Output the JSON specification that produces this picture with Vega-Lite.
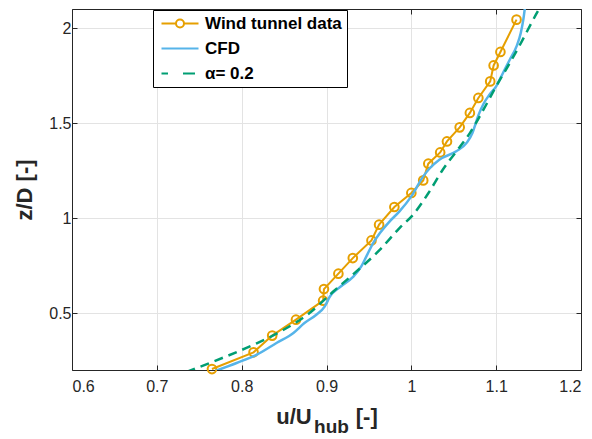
{
  "$schema": "https://vega.github.io/schema/vega-lite/v6.json",
  "width": 509,
  "height": 361,
  "autosize": {"type": "none"},
  "padding": {"left": 72, "top": 9, "right": 11, "bottom": 69},
  "background": "white",
  "title": {
    "text": "hub",
    "orient": "bottom",
    "anchor": "middle",
    "dx": 5,
    "offset": -9,
    "font": "Liberation Sans",
    "fontSize": 19,
    "fontWeight": "bold",
    "color": "#262626"
  },
  "datasets": {
    "wind": [
      {"series": "Wind tunnel data", "u": 0.765, "z": 0.205},
      {"series": "Wind tunnel data", "u": 0.814, "z": 0.293},
      {"series": "Wind tunnel data", "u": 0.836, "z": 0.381},
      {"series": "Wind tunnel data", "u": 0.864, "z": 0.465},
      {"series": "Wind tunnel data", "u": 0.896, "z": 0.565},
      {"series": "Wind tunnel data", "u": 0.897, "z": 0.626},
      {"series": "Wind tunnel data", "u": 0.914, "z": 0.707},
      {"series": "Wind tunnel data", "u": 0.931, "z": 0.789},
      {"series": "Wind tunnel data", "u": 0.953, "z": 0.882},
      {"series": "Wind tunnel data", "u": 0.962, "z": 0.965},
      {"series": "Wind tunnel data", "u": 0.980, "z": 1.058},
      {"series": "Wind tunnel data", "u": 1.000, "z": 1.132},
      {"series": "Wind tunnel data", "u": 1.014, "z": 1.198},
      {"series": "Wind tunnel data", "u": 1.020, "z": 1.286},
      {"series": "Wind tunnel data", "u": 1.034, "z": 1.345},
      {"series": "Wind tunnel data", "u": 1.042, "z": 1.403},
      {"series": "Wind tunnel data", "u": 1.057, "z": 1.477},
      {"series": "Wind tunnel data", "u": 1.069, "z": 1.553},
      {"series": "Wind tunnel data", "u": 1.079, "z": 1.632},
      {"series": "Wind tunnel data", "u": 1.093, "z": 1.719},
      {"series": "Wind tunnel data", "u": 1.097, "z": 1.803},
      {"series": "Wind tunnel data", "u": 1.105, "z": 1.874},
      {"series": "Wind tunnel data", "u": 1.124, "z": 2.044}
    ],
    "cfd": [
      {"series": "CFD", "u": 0.769, "z": 0.195},
      {"series": "CFD", "u": 0.794, "z": 0.237},
      {"series": "CFD", "u": 0.818, "z": 0.281},
      {"series": "CFD", "u": 0.841, "z": 0.342},
      {"series": "CFD", "u": 0.861, "z": 0.395},
      {"series": "CFD", "u": 0.874, "z": 0.447},
      {"series": "CFD", "u": 0.888, "z": 0.491},
      {"series": "CFD", "u": 0.898, "z": 0.535},
      {"series": "CFD", "u": 0.904, "z": 0.587},
      {"series": "CFD", "u": 0.916, "z": 0.637},
      {"series": "CFD", "u": 0.931, "z": 0.689},
      {"series": "CFD", "u": 0.941, "z": 0.745},
      {"series": "CFD", "u": 0.947, "z": 0.798},
      {"series": "CFD", "u": 0.955, "z": 0.868},
      {"series": "CFD", "u": 0.963, "z": 0.921},
      {"series": "CFD", "u": 0.974, "z": 0.980},
      {"series": "CFD", "u": 0.986, "z": 1.035},
      {"series": "CFD", "u": 1.000, "z": 1.114},
      {"series": "CFD", "u": 1.014, "z": 1.219},
      {"series": "CFD", "u": 1.022, "z": 1.263},
      {"series": "CFD", "u": 1.033, "z": 1.307},
      {"series": "CFD", "u": 1.053, "z": 1.351},
      {"series": "CFD", "u": 1.065, "z": 1.395},
      {"series": "CFD", "u": 1.072, "z": 1.447},
      {"series": "CFD", "u": 1.076, "z": 1.500},
      {"series": "CFD", "u": 1.079, "z": 1.540},
      {"series": "CFD", "u": 1.085, "z": 1.600},
      {"series": "CFD", "u": 1.092, "z": 1.649},
      {"series": "CFD", "u": 1.100, "z": 1.693},
      {"series": "CFD", "u": 1.108, "z": 1.763},
      {"series": "CFD", "u": 1.116, "z": 1.833},
      {"series": "CFD", "u": 1.124, "z": 1.903},
      {"series": "CFD", "u": 1.129, "z": 1.974},
      {"series": "CFD", "u": 1.132, "z": 2.044},
      {"series": "CFD", "u": 1.134, "z": 2.110}
    ],
    "alpha": [
      {"series": "α= 0.2", "u": 0.735, "z": 0.190},
      {"series": "α= 0.2", "u": 0.767, "z": 0.245},
      {"series": "α= 0.2", "u": 0.814, "z": 0.333},
      {"series": "α= 0.2", "u": 0.846, "z": 0.403},
      {"series": "α= 0.2", "u": 0.880, "z": 0.500},
      {"series": "α= 0.2", "u": 0.908, "z": 0.613},
      {"series": "α= 0.2", "u": 0.931, "z": 0.702},
      {"series": "α= 0.2", "u": 0.963, "z": 0.833},
      {"series": "α= 0.2", "u": 0.986, "z": 0.947},
      {"series": "α= 0.2", "u": 1.002, "z": 1.017},
      {"series": "α= 0.2", "u": 1.020, "z": 1.130},
      {"series": "α= 0.2", "u": 1.037, "z": 1.254},
      {"series": "α= 0.2", "u": 1.053, "z": 1.350},
      {"series": "α= 0.2", "u": 1.069, "z": 1.447},
      {"series": "α= 0.2", "u": 1.085, "z": 1.570},
      {"series": "α= 0.2", "u": 1.100, "z": 1.693},
      {"series": "α= 0.2", "u": 1.114, "z": 1.800},
      {"series": "α= 0.2", "u": 1.127, "z": 1.903},
      {"series": "α= 0.2", "u": 1.149, "z": 2.087},
      {"series": "α= 0.2", "u": 1.152, "z": 2.110}
    ]
  },
  "layer": [
    {
      "data": {"name": "wind"},
      "mark": {"type": "line", "strokeWidth": 2, "clip": true},
      "encoding": {
        "x": {
          "field": "u", "type": "quantitative",
          "scale": {"domain": [0.6, 1.2], "nice": false, "zero": false},
          "axis": {
            "orient": "bottom",
            "values": [0.6, 0.7, 0.8, 0.9, 1, 1.1, 1.2],
            "format": "~g",
            "grid": true,
            "labelPadding": 13,
            "title": "u/U\u2003\u2003[-]",
            "titlePadding": 12
          }
        },
        "y": {
          "field": "z", "type": "quantitative",
          "scale": {"domain": [0.2, 2.1], "nice": false, "zero": false},
          "axis": {
            "orient": "left",
            "values": [0.5, 1, 1.5, 2],
            "format": "~g",
            "grid": true,
            "labelPadding": 6,
            "title": "z/D [-]",
            "titlePadding": 12
          }
        },
        "color": {
          "field": "series", "type": "nominal",
          "scale": {
            "domain": ["Wind tunnel data", "CFD", "α= 0.2"],
            "range": ["#E69F00", "#56B4E9", "#009E73"]
          },
          "legend": {"title": null}
        },
        "order": {"field": "z", "type": "quantitative"}
      }
    },
    {
      "data": {"name": "wind"},
      "mark": {"type": "point", "filled": false, "size": 75, "strokeWidth": 2, "opacity": 1},
      "encoding": {
        "x": {"field": "u", "type": "quantitative", "axis": null},
        "y": {"field": "z", "type": "quantitative", "axis": null},
        "color": {"field": "series", "type": "nominal", "legend": {"title": null}}
      }
    },
    {
      "data": {"name": "cfd"},
      "mark": {"type": "line", "strokeWidth": 2.5, "clip": true, "interpolate": "monotone"},
      "encoding": {
        "x": {
          "field": "u", "type": "quantitative",
          "axis": {"orient": "top", "labels": false, "grid": false, "title": null, "values": [0.6, 0.7, 0.8, 0.9, 1, 1.1, 1.2]}
        },
        "y": {
          "field": "z", "type": "quantitative",
          "axis": {"orient": "right", "labels": false, "grid": false, "title": null, "values": [0.5, 1, 1.5, 2]}
        },
        "color": {"field": "series", "type": "nominal", "legend": {"title": null}},
        "order": {"field": "z", "type": "quantitative"}
      }
    },
    {
      "data": {"name": "alpha"},
      "mark": {"type": "line", "strokeWidth": 2.5, "strokeDash": [9, 6], "clip": true, "interpolate": "monotone"},
      "encoding": {
        "x": {"field": "u", "type": "quantitative", "axis": null},
        "y": {"field": "z", "type": "quantitative", "axis": null},
        "color": {"field": "series", "type": "nominal", "legend": {"title": null}},
        "order": {"field": "z", "type": "quantitative"}
      }
    },
    {
      "data": {"name": "wind"},
      "transform": [{"filter": "datum.u > 5"}],
      "mark": {"type": "point", "filled": false, "clip": true},
      "encoding": {
        "x": {"field": "u", "type": "quantitative", "axis": null},
        "y": {"field": "z", "type": "quantitative", "axis": null},
        "color": {"field": "series", "type": "nominal", "legend": {"title": null}},
        "shape": {
          "field": "series", "type": "nominal",
          "scale": {
            "domain": ["Wind tunnel data", "CFD", "α= 0.2"],
            "range": [
              "M-1,0H1.9M3.5,0H6.4M1.9,0A0.8,0.8,0,1,1,3.5,0A0.8,0.8,0,1,1,1.9,0",
              "M-1,0H6.4",
              "M-1,0H0.3M3.3,0H5.7"
            ]
          },
          "legend": {"title": null}
        }
      }
    }
  ],
  "resolve": {"axis": {"x": "independent", "y": "independent"}},
  "config": {
    "view": {"stroke": null},
    "font": "Liberation Sans",
    "axis": {
      "domainColor": "#262626",
      "domainWidth": 1,
      "tickColor": "#262626",
      "tickSize": -5,
      "tickWidth": 1,
      "labelColor": "#262626",
      "labelFont": "Liberation Sans",
      "labelFontSize": 16,
      "titleColor": "#262626",
      "titleFont": "Liberation Sans",
      "titleFontSize": 22,
      "titleFontWeight": "bold",
      "gridColor": "#e3e3e3",
      "gridWidth": 1
    },
    "legend": {
      "orient": "none",
      "legendX": 81,
      "legendY": 1,
      "strokeColor": "#000000",
      "fillColor": "#ffffff",
      "padding": 5,
      "labelFont": "Liberation Sans",
      "labelFontSize": 17,
      "labelFontWeight": "bold",
      "labelColor": "#000000",
      "labelOffset": 30,
      "symbolSize": 100,
      "symbolStrokeWidth": 2,
      "symbolFillColor": "transparent",
      "rowPadding": 7,
      "labelLimit": 300
    }
  }
}
